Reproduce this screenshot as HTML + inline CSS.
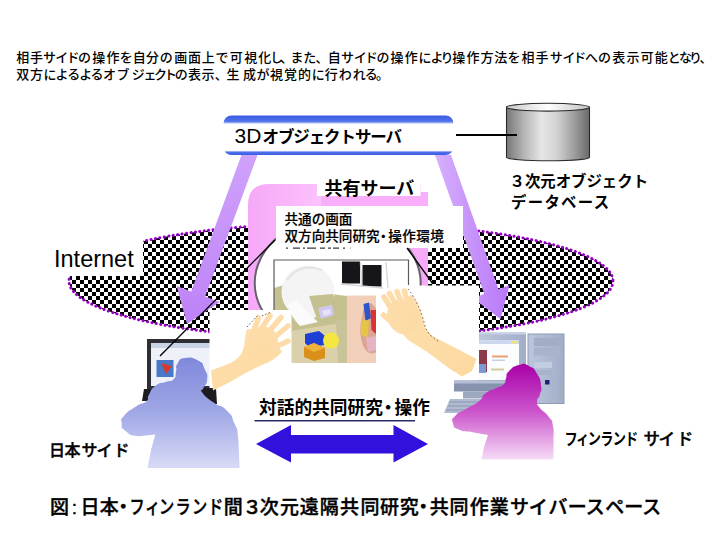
<!DOCTYPE html>
<html lang="ja">
<head>
<meta charset="utf-8">
<title>日本・フィンランド間３次元遠隔共同研究・共同作業サイバースペース</title>
<style>
html,body{margin:0;padding:0;background:#fff;}
body{width:720px;height:540px;overflow:hidden;position:relative;font-family:"Liberation Sans","Noto Sans CJK JP",sans-serif;}
svg{position:absolute;left:0;top:0;display:block;}
text{font-family:"Liberation Sans","Noto Sans CJK JP",sans-serif;fill:#000;}
.b{font-weight:700;}
.m{font-weight:500;}
</style>
</head>
<body>
<svg width="720" height="540" viewBox="0 0 720 540">
<defs>
  <pattern id="chk" x="0" y="0" width="8" height="8" patternUnits="userSpaceOnUse">
    <rect x="0" y="0" width="8" height="8" fill="#fff"/>
    <rect x="0" y="0" width="4" height="4" fill="#000"/>
    <rect x="4" y="4" width="4" height="4" fill="#000"/>
  </pattern>
  <linearGradient id="gBox" x1="0" y1="0" x2="0" y2="1">
    <stop offset="0" stop-color="#3b5be3"/>
    <stop offset="0.15" stop-color="#5272ec"/>
    <stop offset="0.22" stop-color="#ffffff"/>
    <stop offset="0.885" stop-color="#ffffff"/>
    <stop offset="0.93" stop-color="#4f6fec"/>
    <stop offset="1" stop-color="#3b5be3"/>
  </linearGradient>
  <linearGradient id="gArrL" x1="0" y1="0" x2="0" y2="1">
    <stop offset="0" stop-color="#cfa2fc"/>
    <stop offset="1" stop-color="#bd82f7"/>
  </linearGradient>
  <linearGradient id="gArrR" x1="0" y1="0" x2="1" y2="0">
    <stop offset="0" stop-color="#d6b0fd"/>
    <stop offset="1" stop-color="#b877f8"/>
  </linearGradient>
  <linearGradient id="gPink" x1="0" y1="0" x2="1" y2="0">
    <stop offset="0" stop-color="#f6a8f8"/>
    <stop offset="0.5" stop-color="#fdc8fd"/>
    <stop offset="1" stop-color="#f6a8f8"/>
  </linearGradient>
  <linearGradient id="gCyl" x1="0" y1="0" x2="1" y2="0">
    <stop offset="0" stop-color="#777777"/>
    <stop offset="0.2" stop-color="#b2b2b2"/>
    <stop offset="0.42" stop-color="#e6e6e6"/>
    <stop offset="0.6" stop-color="#d4d4d4"/>
    <stop offset="0.8" stop-color="#a2a2a2"/>
    <stop offset="1" stop-color="#6a6a6a"/>
  </linearGradient>
  <linearGradient id="gCylTop" x1="0" y1="0" x2="1" y2="0">
    <stop offset="0" stop-color="#c8c8c8"/>
    <stop offset="0.5" stop-color="#ffffff"/>
    <stop offset="1" stop-color="#c0c0c0"/>
  </linearGradient>
  <linearGradient id="gManL" x1="0" y1="0" x2="0" y2="1">
    <stop offset="0" stop-color="#8088dc"/>
    <stop offset="0.5" stop-color="#a0a8e6"/>
    <stop offset="1" stop-color="#d8dbf6"/>
  </linearGradient>
  <linearGradient id="gManR" x1="0" y1="0" x2="0" y2="1">
    <stop offset="0" stop-color="#a800a8"/>
    <stop offset="0.5" stop-color="#cc55cc"/>
    <stop offset="1" stop-color="#f6dcf6"/>
  </linearGradient>
  <linearGradient id="gSkin" x1="0" y1="0" x2="1" y2="1">
    <stop offset="0" stop-color="#fddfae"/>
    <stop offset="1" stop-color="#fdd9a0"/>
  </linearGradient>
  <linearGradient id="gPC" x1="0" y1="0" x2="1" y2="0">
    <stop offset="0" stop-color="#bcc7dc"/>
    <stop offset="1" stop-color="#a2aec8"/>
  </linearGradient>
</defs>

<!-- Internet ellipse -->
<g id="net">
  <ellipse cx="341" cy="281" rx="272" ry="58" fill="url(#chk)"/>
  <ellipse cx="341" cy="281" rx="272" ry="58" fill="none" stroke="#9800c8" stroke-width="3" stroke-dasharray="0.1 4.4" stroke-linecap="round"/>
  <rect x="40" y="222" width="103" height="54" fill="#fff"/>
  <text x="54" y="267" font-size="23.5">Internet</text>
</g>

<!-- pink shared-server panel -->
<g id="pink">
  <path d="M248 312 L248 205 Q248 184 269 184 L420.500 184 L420.500 192 L428 192 L428 312 Z" fill="url(#gPink)"/>
</g>

<!-- big arrows from 3D object server -->
<g id="arrows">
  <polygon points="241.500,155 257.500,155 205.200,296.600 219.700,302 187,324 176.700,286 191.200,291.400" fill="url(#gArrL)"/>
  <polygon points="435,155 451,155 498.500,289.200 509.500,285.300 500.500,319 472.800,297.900 484.300,294" fill="url(#gArrR)"/>
</g>

<!-- 3D object server box -->
<g id="srv3d">
  <rect x="223.500" y="115.500" width="230" height="39.500" rx="8" ry="8" fill="url(#gBox)"/>
  <text class="b" x="234.500" y="143" font-size="16.500"><tspan font-size="21" font-weight="400">3D</tspan><tspan x="262.500" letter-spacing="-1.100">オブジェクトサーバ</tspan></text>
  <line x1="456" y1="135" x2="517" y2="135" stroke="#000" stroke-width="2"/>
</g>

<!-- database cylinder -->
<g id="db">
  <path d="M506.500 107.200 L506.500 157.300 A41.500 3.400 0 0 0 589.500 157.300 L589.500 107.200 Z" fill="url(#gCyl)" stroke="#2a2a2a" stroke-width="1.100"/>
  <ellipse cx="548" cy="107.200" rx="41.500" ry="3.900" fill="url(#gCylTop)" stroke="#2a2a2a" stroke-width="1.100"/>
  <line x1="506" y1="135" x2="517" y2="135" stroke="#000" stroke-width="2"/>
  <text class="b" x="509.500" y="186.500" font-size="15.400">３次元オブジェクト</text>
  <text class="b" x="511" y="207.500" font-size="15.400" letter-spacing="1.300">データベース</text>
</g>

<!-- lens circle -->
<g id="lens">
  <ellipse cx="337.700" cy="283" rx="83" ry="66" fill="#fff" stroke="#66606c" stroke-width="2"/>
</g>



<!-- shared server label -->
<g id="shared">
  <rect x="321" y="192" width="107" height="14" fill="#f8aefa"/>
  <rect x="317" y="174" width="103.500" height="22" fill="#fff"/>
  <text class="b" x="324.500" y="195" font-size="18">共有サーバ</text>
</g>

<!-- common screen label -->
<g id="common">
  <rect x="276" y="206" width="187" height="42" fill="#fff"/>
  <text class="m" stroke="#000" stroke-width="0.200" x="284.500" y="224" font-size="13.600">共通の画面</text>
  <text class="m" stroke="#000" stroke-width="0.200" x="284.500" y="240.500" font-size="13.600">双方向共同研究<tspan dx="-3.200">・</tspan><tspan dx="-1.800" letter-spacing="0.400">操作環境</tspan></text>
  <path d="M286 248.100 L350.500 248.100" stroke="#3a3a3a" stroke-width="1.300" stroke-dasharray="2 5 7 3 2 2 9 4 5 3 3 2 6 4" fill="none"/>
</g>

<!-- central shared 3D image -->
<g id="scene">
  <rect x="274" y="260" width="134.500" height="103" fill="#fff"/>
  <path d="M274 288 L284 285 L292 289 L347 296 L347 363 L274 363 Z" fill="#c4c090"/>
  <path d="M291 331 L347 322 L347 363 L291 363 Z" fill="#dad0aa"/>
  <path d="M336 320 L347 318 L347 363 L338 363 Z" fill="#c9c39a"/>
  <circle cx="308" cy="292" r="26.500" fill="#f4f4f5"/>
  <path d="M309 296 L333 294 L338 314 L318 322 Z" fill="#c4c090"/>
  <path d="M296 300 Q306 312 318 322 L300 326 Q290 316 288 304 Z" fill="#fbfbfb"/>
  <path d="M287 280 Q300 262 322 270" fill="none" stroke="#e3e3e6" stroke-width="2"/>
  <path d="M318 308 L332 305 L334 315 L321 319 Z" fill="#cfc9f2"/>
  <path d="M322 311 L330 309 L331 314 L324 316 Z" fill="#e6e2fa"/>
  <rect x="342" y="261.500" width="18" height="22" fill="#16161a"/>
  <rect x="362.500" y="265" width="19" height="21.500" fill="#16161a"/>
  <path d="M360.500 262 L361.500 287 M341 284 L383 288 M386 262 L388 288" stroke="#d8d8de" stroke-width="1.400" fill="none"/>
  <path d="M305 334 L319 331 L325 336 L325 345 L309 347 L305 343 Z" fill="#1f40d4"/>
  <circle cx="331" cy="340.500" r="8" fill="#f6e640"/>
  <path d="M304 347 L314 343 L325 348 L325 358 L314 361 L304 357 Z" fill="#d98f1a"/>
  <path d="M304 347 L314 343 L325 348 L314 352 Z" fill="#eeb23c"/>
  <rect x="347" y="295.500" width="29" height="67.500" fill="#f2cfb8"/>
  <path d="M364 306 L371 303 L376 308 L376 352 Q369 357 363 346 Q358 332 362 317 Z" fill="#dba493"/>
  <path d="M363.500 304 L369 302.500 L371 318 L365.500 321 Z" fill="#2b55c8"/>
  <path d="M370.500 310 L376 310 L376 334 L371.500 330 Z" fill="#d83434"/>
  <path d="M361.500 319 L369 321 L368 338 L360.500 334 Z" fill="#e6c546"/>
  <path d="M366 338 L376 336 L376 350 L368 352 Z" fill="#e4b4c0"/>
  <path d="M274 310 L274 260 L408.500 260 L408.500 285" fill="none" stroke="#5a5a60" stroke-width="1.200"/>
</g>

<!-- left laptop -->
<g id="laptop">
  <rect x="147" y="339" width="64" height="50" fill="#2e2e34"/>
  <rect x="151" y="343" width="60" height="43" fill="#eef1f8"/>
  <rect x="151" y="343" width="60" height="5" fill="#c9d3e8"/>
  <rect x="156.500" y="360" width="17" height="17" fill="#4a78c8"/>
  <path d="M161 363 L172 366 L166 374 Z" fill="#d83a2a"/>
  <path d="M144 389 L158 389 L156 401 L142 401 Z" fill="#1c1c20"/>
  <path d="M200 388 L216 388 L217 404 L203 404 Z" fill="#1c1c20"/>
</g>

<!-- right desktop PC -->
<g id="pc">
  <rect x="477" y="332.500" width="49" height="48.500" fill="url(#gPC)"/>
  <rect x="477" y="332.500" width="49" height="2" fill="#c6d0e4"/>
  <rect x="479" y="340.500" width="40" height="39.500" fill="#fbfcfe"/>
  <rect x="479" y="340.500" width="40" height="3.500" fill="#cdd8ee"/>
  <rect x="511" y="341" width="6" height="2.500" fill="#f0e080"/>
  <rect x="479" y="350" width="8" height="22" fill="#8a3a48"/>
  <rect x="479" y="364" width="7" height="9" fill="#7a9ad0"/>
  <rect x="492" y="355.500" width="16" height="2" fill="#e8a070"/>
  <rect x="492" y="359.500" width="13" height="1.500" fill="#c8d0e0"/>
  <rect x="491" y="368.500" width="13" height="2" fill="#d8c8a0"/>
  <rect x="454" y="380.500" width="72" height="11" fill="#8792ae"/>
  <rect x="454" y="380.500" width="72" height="3" fill="#b4bed4"/>
  <rect x="463" y="391.500" width="24" height="7" fill="#9ca7c0"/>
  <path d="M450 399 L482 399 L478 413 L444 413 Z" fill="#b0bad0"/>
  <path d="M449 402 L480 402 M447.500 406 L479 406 M446 410 L478 410" stroke="#8c97b2" stroke-width="1" fill="none"/>
  <rect x="528" y="334" width="36" height="69.500" fill="url(#gPC)"/>
  <rect x="528" y="334" width="36" height="69.500" fill="none" stroke="#8f9ab4" stroke-width="1"/>
  <rect x="534" y="338" width="27" height="8" fill="#a3aec6"/>
  <rect x="534" y="347.500" width="27" height="8" fill="#a9b4cb"/>
  <rect x="534" y="362" width="18" height="6" fill="#c4cde0"/>
  <rect x="534" y="370" width="18" height="5" fill="#a9b4cb"/>
  <rect x="545" y="380" width="4.500" height="4.500" fill="#20207a"/>
  <rect x="559" y="378" width="4" height="22" fill="#a3aec6"/>
</g>

<!-- hand panels -->
<g id="handL">
  <rect x="209.500" y="310" width="82" height="78" fill="#fff"/>
  <g fill="url(#gSkin)" stroke="none">
    <path d="M211 370.500 L228 364 Q241 359 244 347 Q245 336 247 329 L268 330 L282 352 Q272 362 262 365 Q246 372 231 381.500 L213 390.500 Z"/>
    <ellipse cx="262" cy="343" rx="15.500" ry="17" transform="rotate(35 262 343)"/>
  </g>
  <g stroke="#fddcaa" stroke-width="5.500" stroke-linecap="round" fill="none">
    <line x1="251" y1="338" x2="258.500" y2="318"/>
    <line x1="258" y1="334" x2="270" y2="315.500"/>
    <line x1="265" y1="336" x2="281" y2="317.500"/>
    <line x1="270" y1="341" x2="288" y2="326"/>
    <line x1="271" y1="349" x2="288" y2="341"/>
  </g>
  <path d="M247 327 L258 315 M262 316 L271 312" stroke="#5a4630" stroke-width="0.900" stroke-dasharray="1.500 2" fill="none"/>
</g>
<g id="handR">
  <rect x="394.500" y="285.500" width="84.500" height="94.500" fill="#fff"/>
  <g fill="url(#gSkin)" stroke="none">
    <path d="M416 300 Q422 312 424.500 325 Q427 334 440 340 L476.500 359 L472 371 L462 376.500 L450 369 L428 352.500 Q416 345 408 340 L392 322 L410 300 Z"/>
    <ellipse cx="403" cy="317" rx="15.500" ry="18" transform="rotate(-28 403 317)"/>
  </g>
  <g stroke="#fddcaa" stroke-width="5.500" stroke-linecap="round" fill="none">
    <line x1="398" y1="328" x2="383.500" y2="315"/>
    <line x1="397" y1="318" x2="384" y2="297"/>
    <line x1="400" y1="312" x2="389.500" y2="293.500"/>
    <line x1="404" y1="310" x2="397" y2="291.500"/>
    <line x1="408.500" y1="309" x2="404.500" y2="291"/>
    <line x1="413" y1="312" x2="411" y2="298"/>
  </g>
  <path d="M408 289 Q420 304 425 326 Q428 336 440 342" stroke="#5a4630" stroke-width="0.900" stroke-dasharray="1.500 2.500" fill="none"/>
</g>

<!-- callout lines -->
<g id="lines">
  <line x1="275" y1="240" x2="160" y2="356" stroke="#000" stroke-width="1.300"/>
  <line x1="407" y1="248" x2="433" y2="284" stroke="#000" stroke-width="1.300"/>
</g>

<!-- silhouettes -->
<g id="people">
  <path d="M185.2 358.0 C192.1 357.0 191.7 357.0 198.2 360.6 C204.7 364.2 201.6 362.7 204.6 368.9 C207.6 375.1 207.6 372.8 207.2 379.3 C206.8 385.8 205.0 384.0 203.3 388.3 C201.6 392.6 198.5 387.4 202.0 392.2 C205.5 397.0 205.5 396.5 213.7 402.6 C221.9 408.7 219.8 403.5 226.7 410.4 C233.6 417.3 230.5 413.8 234.4 423.3 C238.3 432.8 236.6 424.0 238.3 438.9 L239.6 468.0 L147.5 468.0 L151.0 450.0 L155.4 434.5 L138.5 436.3 C128.6 435.1 131.2 435.3 125.6 431.0 C120.0 426.7 122.1 428.4 121.7 423.3 C121.3 418.2 119.6 421.2 124.3 415.6 C129.0 410.0 128.6 411.3 135.9 406.5 C143.2 401.7 142.0 405.2 146.3 401.3 C150.6 397.4 145.9 400.0 148.9 394.8 C151.9 389.6 149.8 390.0 155.4 385.7 C161.0 381.4 159.7 384.0 165.7 381.9 C171.7 379.8 170.0 382.8 173.5 379.3 C177.0 375.8 174.8 376.7 176.1 371.5 C177.4 366.3 174.4 368.2 177.4 363.7 C180.4 359.2 178.3 359.0 185.2 358.0 Z" fill="url(#gManL)"/>
  <path d="M519.1 365.0 C526.0 363.3 523.4 363.3 529.4 366.3 C535.4 369.3 533.3 367.6 537.2 374.1 C541.1 380.6 540.2 378.8 541.1 385.7 C542.0 392.6 541.1 389.6 539.8 394.8 C538.5 400.0 537.2 397.0 537.2 401.3 C537.2 405.6 535.9 402.6 539.8 407.8 C543.7 413.0 544.5 410.9 548.9 416.9 C553.3 422.9 551.5 417.7 553.0 425.9 C554.5 434.1 553.3 430.3 553.5 441.5 L553.5 459.6 L481.5 459.6 L484.1 446.7 L488.0 435.0 L473.7 432.4 C464.2 430.7 466.3 432.8 459.4 429.8 C452.5 426.8 454.3 428.0 453.0 423.3 C451.7 418.6 451.3 420.3 455.6 415.6 C459.9 410.9 458.1 413.9 465.9 409.1 C473.7 404.3 472.4 406.5 478.9 401.3 C485.4 396.1 479.8 397.8 485.4 393.5 C491.0 389.2 489.7 391.3 495.7 388.3 C501.7 385.3 500.0 387.8 503.5 384.4 C507.0 381.0 504.4 382.3 506.1 378.0 C507.8 373.7 504.4 375.8 508.7 371.5 C513.0 367.2 512.2 366.7 519.1 365.0 Z" fill="url(#gManR)"/>
</g>

<!-- dialogue arrow -->
<g id="dialog">
  <text class="b" x="259" y="414" font-size="17.700">対話的共同研究<tspan dx="-3.500">・</tspan><tspan dx="-2.500">操作</tspan></text>
  <line x1="254.500" y1="420.700" x2="415" y2="420.700" stroke="#2a2a66" stroke-width="1.400"/>
  <polygon points="256,444 291,425 291,435 393.500,435 393.500,425 428,444 393.500,462.500 393.500,453.500 291,453.500 291,462.500" fill="#3311dd"/>
</g>

<!-- captions -->
<g id="texts">
  <text class="m" font-size="13" y="62" x="16.2 29.9 43.1 55.2 66.4 78.1 92.2 106.4 119.7 132.8 146.0 159.8 174.2 188.1 201.8 215.6 229.8 244.2 258.2 270.2 280.1 290.6 303.3 315.4 327.7 341.0 353.8 364.8 376.4 390.6 404.8 418.5 430.4 440.6 452.2 466.6 480.6 494.3 507.4 521.4 535.6 549.8 562.5 573.2 584.9 598.1 612.2 626.4 640.6 654.8 667.7 679.1 689.1 699.4">相手サイドの操作を自分の画面上で可視化し、また、自サイドの操作により操作方法を相手サイドへの表示可能となり、</text>
  <text class="m" font-size="13" y="78.700" x="16.2 29.9 43.5 55.6 67.2 79.2 90.6 103.1 116.4 131.8 143.5 153.9 164.1 174.8 188.1 201.6 214.8 226.6 243.1 256.4 269.9 283.9 298.1 311.8 324.8 338.8 352.7 364.8 375.9">双方によるよるオブジェクトの表示、生成が視覚的に行われる。</text>
  <text class="m" stroke="#000" stroke-width="0.400" font-size="19" y="514" x="50.0 71.7 80.5 99.7 113.8">図:日本・</text>
  <text class="m" stroke="#000" stroke-width="0.400" font-size="19" transform="translate(129.6 514) scale(0.80 1)" y="0" x="-0.0 19.2 36.9 57.3 78.1 97.9">フィンランド</text>
  <text class="m" stroke="#000" stroke-width="0.400" font-size="19" y="514" x="223.8 242.7 259.7 280.0 299.7 319.7 340.0 360.5 380.0 399.7 413.8 429.7 449.5 469.7 489.7 510.0 528.8 548.5 567.7 585.8 605.2 624.3 642.2">間３次元遠隔共同研究・共同作業サイバースペース</text>
  <text class="m" stroke="#000" stroke-width="0.400" font-size="16" transform="translate(48.9 456) scale(1.00 1)" y="0" x="0.0 15.6 32.5 47.5 64.6">日本サイド</text>
  <text class="b" font-size="16.5" transform="translate(564.4 444.5) scale(0.80 1)" y="0" x="0.0 14.4 29.2 44.9 60.5 75.8">フィンランド</text>
  <text class="m" stroke="#000" stroke-width="0.400" font-size="16.5" transform="translate(643.6 444.5) scale(1.00 1)" y="0" x="0.0 15.0 33.1">サイド</text>
</g>
</svg>
</body>
</html>
